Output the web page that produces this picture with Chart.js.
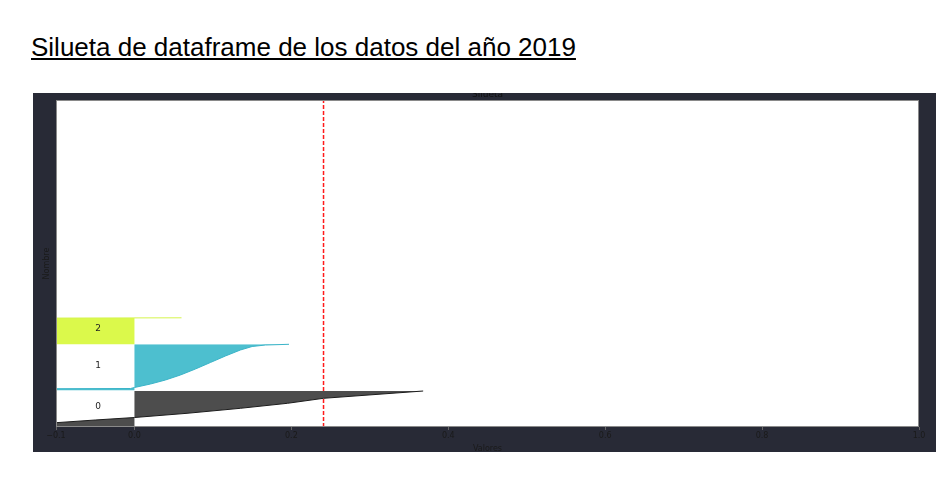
<!DOCTYPE html>
<html><head><meta charset="utf-8">
<script src="https://cdn.jsdelivr.net/npm/chart.js@4.4.0/dist/chart.umd.min.js"></script>
<style>
html,body{margin:0;padding:0;background:#fff;width:946px;height:477px;overflow:hidden;}
#title{position:absolute;left:31px;top:34px;font-family:"Liberation Sans",Arial,sans-serif;font-size:26px;color:#000;text-decoration:underline;white-space:nowrap;line-height:1;}
#wrap{position:absolute;left:33px;top:93px;width:903px;height:359px;}
</style></head><body>
<div id="title">Silueta de dataframe de los datos del año 2019</div>
<div id="wrap"><canvas id="c"></canvas></div>
<script>
// Silhouette values per cluster (position along the y axis = sample rank, value = silhouette coefficient)
const clusterNames = ['0', '1', '2'];
const cluster0Pos = [10, 43, 70, 95, 137, 187, 237, 287, 360];
const cluster0Val = [-0.16, -0.10, -0.05, 0.0, 0.067, 0.135, 0.195, 0.241, 0.368];
const cluster1Pos = [365, 378, 385, 395, 430, 470, 520, 580, 645, 710, 770, 805, 820, 827];
const cluster1Val = [-0.3, -0.3, -0.005, 0.0, 0.0204, 0.0395, 0.0586, 0.0777, 0.0968, 0.1159, 0.135, 0.150, 0.167, 0.197];
const cluster2Pos = [825, 1086, 1092];
const cluster2Val = [-0.3, -0.3, 0.06];
const labelPos = [205, 612, 985];
const avgScore = 0.241;
const xTicks = [-0.1, 0, 0.2, 0.4, 0.6, 0.8, 1.0];
const yMax = 3270;

const toPts = (pos, val) => pos.map((p, i) => ({x: val[i], y: p}));

const bgPlugin = {
  id: 'bg',
  beforeDraw(chart) {
    const {ctx, chartArea: a, width, height} = chart;
    ctx.save();
    ctx.fillStyle = '#282a36';
    ctx.fillRect(0, 0, width, height);
    ctx.fillStyle = '#ffffff';
    ctx.fillRect(a.left, a.top, a.right - a.left, a.bottom - a.top);
    ctx.restore();
  },
  afterDraw(chart) {
    const {ctx, chartArea: a, scales} = chart;
    ctx.save();
    ctx.strokeStyle = '#8a8a8a';
    ctx.lineWidth = 1;
    ctx.strokeRect(a.left + 0.5, a.top + 0.5, a.right - a.left - 1, a.bottom - a.top - 1);
    // cluster labels
    ctx.fillStyle = '#222';
    ctx.font = '9px "DejaVu Sans"';
    ctx.textAlign = 'left';
    ctx.textBaseline = 'middle';
    clusterNames.forEach((n, i) => {
      ctx.fillText(n, scales.x.getPixelForValue(-0.05), scales.y.getPixelForValue(labelPos[i]));
    });
    // clipped axes title
    ctx.fillStyle = '#111';
    ctx.font = '9px "DejaVu Sans"';
    ctx.textAlign = 'center';
    ctx.textBaseline = 'alphabetic';
    ctx.fillText('Silueta', (a.left + a.right) / 2, 4);
    ctx.restore();
  }
};

new Chart(document.getElementById('c'), {
  type: 'line',
  data: {
    datasets: [
      {data: toPts(cluster0Pos, cluster0Val), backgroundColor: '#4d4d4d', borderColor: '#1c1c1c', borderWidth: 1, fill: {value: 0}},
      {data: toPts(cluster1Pos, cluster1Val), backgroundColor: '#4dbfcf', borderColor: '#3bb4c8', borderWidth: 1, fill: {value: 0}},
      {data: toPts(cluster2Pos, cluster2Val), backgroundColor: '#dbf94b', borderColor: '#d6f550', borderWidth: 1, fill: {value: 0}},
      {data: [{x: avgScore, y: 0}, {x: avgScore, y: yMax}], borderColor: '#ff1a1a', borderWidth: 1.5, borderDash: [4, 2], fill: false}
    ]
  },
  options: {
    indexAxis: 'y',
    responsive: true,
    maintainAspectRatio: false,
    animation: false,
    layout: {padding: {left: 0, right: 17, top: 7, bottom: 0}},
    elements: {point: {radius: 0, hoverRadius: 0}, line: {tension: 0}},
    plugins: {legend: {display: false}, tooltip: {enabled: false}},
    scales: {
      x: {
        type: 'linear', min: -0.1, max: 1.0,
        afterBuildTicks: s => { s.ticks = xTicks.map(v => ({value: v})); },
        afterFit: s => { s.height = 25; },
        ticks: {color: '#1a1a1a', font: {family: 'DejaVu Sans', size: 8}, padding: 1, maxRotation: 0, autoSkip: false,
          callback: v => Number(v).toFixed(1).replace('-', '\u2212')},
        grid: {display: true, drawOnChartArea: false, drawTicks: true, tickLength: 3, color: '#666'},
        border: {display: false},
        title: {display: true, text: 'Valores', color: '#1a1a1a', font: {family: 'DejaVu Sans', size: 8}, padding: {top: 0, bottom: -2}}
      },
      y: {
        type: 'linear', min: 0, max: yMax,
        afterFit: s => { s.width = 23; },
        ticks: {display: false},
        grid: {display: false},
        border: {display: false},
        title: {display: true, text: 'Nombre', color: '#1a1a1a', font: {family: 'DejaVu Sans', size: 8}, padding: {top: 9, bottom: 0}}
      }
    }
  },
  plugins: [bgPlugin]
});
</script>
</body></html>
